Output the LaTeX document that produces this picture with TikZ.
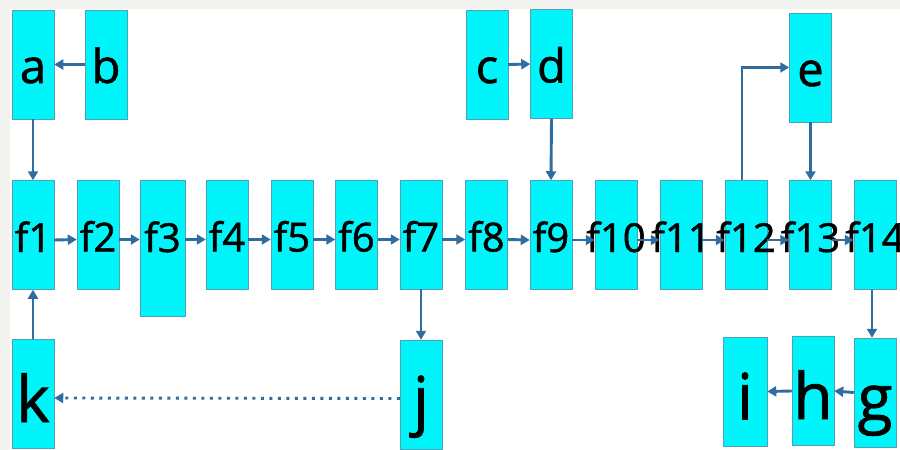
\documentclass[tikz,border=0pt]{standalone}
\usepackage{fontspec}
\setmainfont{Open Sans}[FakeBold=1.2]
\usetikzlibrary{arrows.meta}
\definecolor{boxcyan}{RGB}{0,245,250}
\definecolor{boxedge}{RGB}{80,160,185}
\definecolor{flowblue}{RGB}{47,108,160}
\definecolor{pagegray}{RGB}{242,242,238}
\newcommand{\lbl}[1]{\makebox[0pt]{#1}}

\begin{document}
\begin{tikzpicture}[x=1pt,y=-1pt,
		box/.style={fill=boxcyan,draw=boxedge,line width=0.5pt,minimum width=42pt,minimum height=109pt,inner sep=0pt},
		toprow/.style={box,font=\fontsize{47}{47}\selectfont,text height=37pt,text depth=0pt},
		midrow/.style={box,font=\fontsize{40}{40}\selectfont,text height=34pt,text depth=0pt},
		botrow/.style={box,font=\fontsize{64}{64}\selectfont,text height=56pt,text depth=0pt},
		flow/.style={draw=flowblue,line width=2.9pt,-{Triangle[length=9pt,width=10pt]}},
		back/.style={flow,dash pattern=on 3pt off 5.5pt}]
		\useasboundingbox (0,0) rectangle (900,450);
		\fill[pagegray] (0,0) rectangle (900,450);
		\fill[white] (10,9) rectangle (900,450);
		
		\node[toprow] (a) at (33,64.5) {\lbl{a}};
		\node[toprow] (b) at (106,64.5) {\lbl{b}};
		\node[toprow] (c) at (487,64.5) {\lbl{c}};
		\node[toprow] (d) at (551.5,64) {\lbl{d}};
		\node[toprow] (e) at (810.5,67.5) {\lbl{e}};
		
		\node[midrow] (f1) at (33,235) {\lbl{f1}};
		\node[midrow] (f2) at (98,234.5) {\lbl{f2}};
		\node[midrow,minimum width=45pt,minimum height=136pt,text depth=26pt] (f3) at (162.5,248) {\lbl{f3}};
		\node[midrow] (f4) at (227,234.5) {\lbl{f4}};
		\node[midrow] (f5) at (292,234.5) {\lbl{f5}};
		\node[midrow] (f6) at (356.5,234.5) {\lbl{f6}};
		\node[midrow] (f7) at (421,234.5) {\lbl{f7}};
		\node[midrow] (f8) at (486.5,234.5) {\lbl{f8}};
		\node[midrow] (f9) at (551,235) {\lbl{f9}};
		\node[midrow] (f10) at (616,235) {\lbl{f10}};
		\node[midrow] (f11) at (681,235) {\lbl{f11}};
		\node[midrow] (f12) at (746,235) {\lbl{f12}};
		\node[midrow] (f13) at (810.5,235) {\lbl{f13}};
		\node[midrow] (f14) at (875,235) {\lbl{f14}};
		
		\node[botrow] (k) at (33,394) {\lbl{k}};
		\node[botrow] (j) at (421,394.5) {\lbl{j}};
		\node[botrow,minimum width=44pt] (i) at (745,391.5) {\lbl{i}};
		\node[botrow] (h) at (813,391) {\lbl{h}};
		\node[botrow] (g) at (875,392.5) {\lbl{g}};
		
		\draw[flow] (b.west) -- (a.east);
		\draw[flow] (c.east) -- (d.west);
		\draw[flow] (a.south) -- (f1.north);
		\draw[flow] (d.south) -- (f9.north);
		\draw[flow] ([xshift=-4pt]f12.north) |- (e.west);
		\draw[flow] (e.south) -- (f13.north);
		
		\draw[flow] ([yshift=-5pt]f1.east) -- ([yshift=-5pt]f2.west);
		\draw[flow] ([yshift=-5pt]f2.east) -- ([yshift=-5pt]f2.east -| f3.west);
		\draw[flow] ([yshift=-5pt]f4.west -| f3.east) -- ([yshift=-5pt]f4.west);
		\draw[flow] ([yshift=-5pt]f4.east) -- ([yshift=-5pt]f5.west);
		\draw[flow] ([yshift=-5pt]f5.east) -- ([yshift=-5pt]f6.west);
		\draw[flow] ([yshift=-5pt]f6.east) -- ([yshift=-5pt]f7.west);
		\draw[flow] ([yshift=-5pt]f7.east) -- ([yshift=-5pt]f8.west);
		\draw[flow] ([yshift=-5pt]f8.east) -- ([yshift=-5pt]f9.west);
		\draw[flow] ([yshift=-5pt]f9.east) -- ([yshift=-5pt]f10.west);
		\draw[flow] ([yshift=-5pt]f10.east) -- ([yshift=-5pt]f11.west);
		\draw[flow] ([yshift=-5pt]f11.east) -- ([yshift=-5pt]f12.west);
		\draw[flow] ([yshift=-5pt]f12.east) -- ([yshift=-5pt]f13.west);
		\draw[flow] ([yshift=-5pt]f13.east) -- ([yshift=-5pt]f14.west);
		
		\draw[flow] (f7.south) -- (j.north);
		\draw[back] ([yshift=-4pt]j.west) -- ([yshift=-4pt]k.east);
		\draw[flow] (k.north) -- (f1.south);
		\draw[flow] ([xshift=-3pt]f14.south) -- ([xshift=-3pt]g.north);
		\draw[flow] (g.west) -- (h.east);
		\draw[flow] (h.west) -- (i.east);
\end{tikzpicture}
\end{document}
